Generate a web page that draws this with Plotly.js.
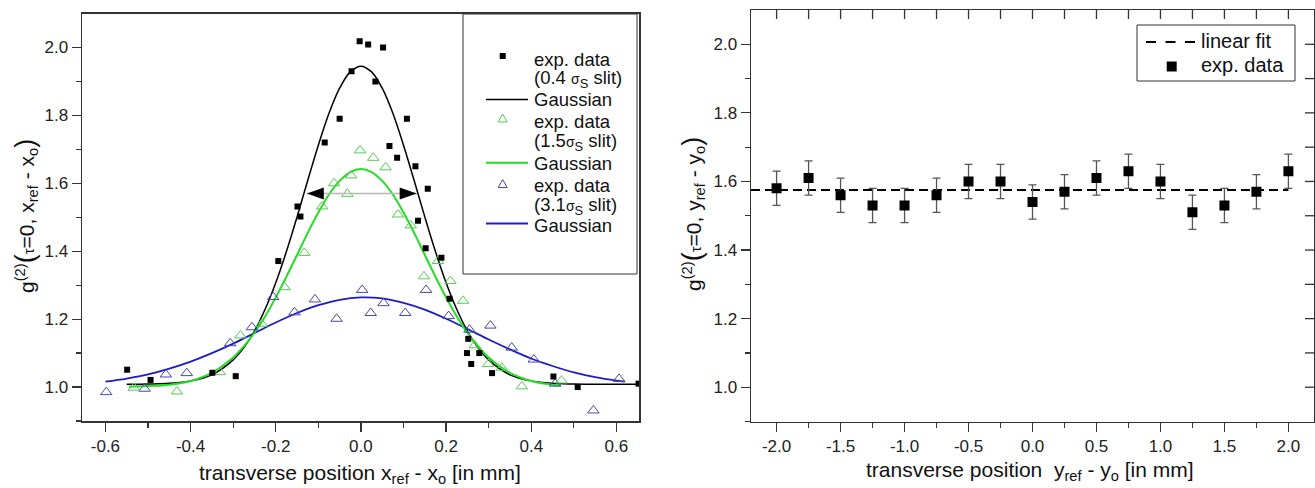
<!DOCTYPE html>
<html>
<head>
<meta charset="utf-8">
<script src="https://cdn.plot.ly/plotly-3.0.1.min.js"></script>
<style>
  html, body { margin: 0; padding: 0; background: #fff; }
  #chart { width: 1315px; height: 488px; }
</style>
</head>
<body>
<div id="chart"></div>
<script>
// ---- Left panel: g2(tau=0) across x for three slit widths ----
const narrowX = [-0.549,-0.494,-0.349,-0.294,-0.194,-0.149,-0.142,-0.085,-0.050,-0.022,-0.003,0.017,0.034,0.052,0.067,0.085,0.108,0.128,0.134,0.152,0.157,0.189,0.208,0.249,0.252,0.259,0.278,0.308,0.452,0.509,0.652];
const narrowG2 = [1.051,1.021,1.042,1.032,1.371,1.532,1.502,1.720,1.790,1.930,2.018,2.009,1.900,2.000,1.710,1.675,1.790,1.650,1.490,1.409,1.584,1.381,1.260,1.100,1.142,1.068,1.100,1.041,1.031,1.000,1.010];

const mediumX = [-0.533,-0.432,-0.331,-0.283,-0.233,-0.179,-0.133,-0.091,-0.063,-0.032,-0.023,-0.002,0.029,0.058,0.087,0.117,0.148,0.181,0.210,0.240,0.267,0.299,0.331,0.378,0.471];
const mediumG2 = [0.998,0.987,1.044,1.152,1.186,1.294,1.395,1.532,1.600,1.569,1.623,1.697,1.675,1.647,1.508,1.476,1.326,1.371,1.312,1.254,1.123,1.068,1.057,1.002,1.019];

const wideX = [-0.598,-0.508,-0.458,-0.409,-0.307,-0.256,-0.206,-0.156,-0.108,-0.057,0.003,0.023,0.053,0.104,0.153,0.206,0.255,0.304,0.354,0.406,0.456,0.546,0.606];
const wideG2 = [0.985,0.995,1.037,1.041,1.129,1.176,1.265,1.220,1.258,1.201,1.286,1.218,1.247,1.218,1.286,1.209,1.169,1.181,1.116,1.081,1.010,0.931,1.024];

// Gaussian fit curves, sampled
const narrowFitX = [-0.55,-0.5,-0.45,-0.4,-0.35,-0.3,-0.275,-0.25,-0.225,-0.2,-0.175,-0.15,-0.125,-0.1,-0.075,-0.05,-0.025,0,0.025,0.05,0.075,0.1,0.125,0.15,0.175,0.2,0.225,0.25,0.275,0.3,0.35,0.4,0.45,0.5,0.55,0.6,0.653];
const narrowFitG2 = [1.008,1.009,1.011,1.018,1.036,1.080,1.116,1.165,1.229,1.307,1.399,1.501,1.608,1.712,1.806,1.880,1.928,1.945,1.928,1.880,1.806,1.712,1.608,1.501,1.399,1.307,1.229,1.165,1.116,1.080,1.036,1.018,1.011,1.009,1.008,1.008,1.008];

const mediumFitX = [-0.545,-0.5,-0.45,-0.4,-0.35,-0.3,-0.275,-0.25,-0.225,-0.2,-0.175,-0.15,-0.125,-0.1,-0.075,-0.05,-0.025,0,0.025,0.05,0.075,0.1,0.125,0.15,0.175,0.2,0.225,0.25,0.275,0.3,0.35,0.4,0.45,0.47];
const mediumFitG2 = [1.001,1.003,1.007,1.018,1.042,1.087,1.120,1.160,1.208,1.264,1.325,1.389,1.454,1.514,1.567,1.607,1.633,1.642,1.633,1.607,1.567,1.514,1.454,1.389,1.325,1.264,1.208,1.160,1.120,1.087,1.042,1.018,1.007,1.005];

const wideFitX = [-0.6,-0.55,-0.5,-0.45,-0.4,-0.35,-0.3,-0.25,-0.2,-0.15,-0.1,-0.05,0,0.05,0.1,0.15,0.2,0.25,0.3,0.35,0.4,0.45,0.5,0.55,0.6,0.62];
const wideFitG2 = [1.016,1.025,1.037,1.054,1.075,1.100,1.128,1.159,1.190,1.218,1.241,1.257,1.264,1.261,1.248,1.228,1.201,1.171,1.140,1.111,1.084,1.062,1.043,1.029,1.019,1.016];

// Width marker (double arrow) on the narrow-slit peak
const fwhmLevel = 1.57;
const fwhmLeft = -0.127;
const fwhmRight = 0.131;

// ---- Right panel: g2(tau=0) across y ----
const yPosition = [-2.0,-1.75,-1.5,-1.25,-1.0,-0.75,-0.5,-0.25,0.0,0.25,0.5,0.75,1.0,1.25,1.5,1.75,2.0];
const g2Y = [1.58,1.61,1.56,1.53,1.53,1.56,1.60,1.60,1.54,1.57,1.61,1.63,1.60,1.51,1.53,1.57,1.63];
const g2YErr = [0.05,0.05,0.05,0.05,0.05,0.05,0.05,0.05,0.05,0.05,0.05,0.05,0.05,0.05,0.05,0.05,0.05];
const linFitX = [-2.2, 2.0];
const linFitG2 = [1.575, 1.575];

// ---- Tick labels ----
const leftXTicks = [-0.6,-0.4,-0.2,0,0.2,0.4,0.6];
const leftXTickText = ['-0.6','-0.4','-0.2','0.0','0.2','0.4','0.6'];
const leftXMinor = [-0.5,-0.3,-0.1,0.1,0.3,0.5];
const yTicks = [1.0,1.2,1.4,1.6,1.8,2.0];
const yTickText = ['1.0','1.2','1.4','1.6','1.8','2.0'];
const yMinor = [0.9,1.1,1.3,1.5,1.7,1.9];
const rightXTicks = [-2,-1.5,-1,-0.5,0,0.5,1,1.5,2];
const rightXTickText = ['-2.0','-1.5','-1.0','-0.5','0.0','0.5','1.0','1.5','2.0'];
const rightXMinor = [-1.75,-1.25,-0.75,-0.25,0.25,0.75,1.25,1.75];
const rightTopTicks = [-2,-1.75,-1.5,-1.25,-1,-0.75,-0.5,-0.25,0,0.25,0.5,0.75,1,1.25,1.5,1.75,2];
const rightSideTicks = [1.0,1.1,1.2,1.3,1.4,1.5,1.6,1.7,1.8,1.9,2.0];

// ---- Colours ----
const cBlack = '#000000';
const cGreenLine = '#22dd22';
const cGreenMark = '#55cc55';
const cBlueLine = '#1c1cc8';
const cBlueMark = '#4848a8';
const cAxis = '#333333';
const FONT = 'Liberation Sans, Arial, Helvetica, sans-serif';

// pixel -> paper helpers
const W = 1315, H = 488;
const px = v => v / W;
const py = v => 1 - v / H;

const rightXRange = [-2.2, 2.2];
const rightYRange = [0.9, 2.1];
const rightXDomain = [px(751), px(1314)];
const rightYDomain = [py(421.5), py(10)];

const traces = [
  { x: wideFitX, y: wideFitG2, mode: 'lines', line: { color: cBlueLine, width: 1.8, shape: 'spline' }, xaxis: 'x', yaxis: 'y' },
  { x: narrowFitX, y: narrowFitG2, mode: 'lines', line: { color: cBlack, width: 1.5, shape: 'spline' }, xaxis: 'x', yaxis: 'y' },
  { x: mediumFitX, y: mediumFitG2, mode: 'lines', line: { color: cGreenLine, width: 2, shape: 'spline' }, xaxis: 'x', yaxis: 'y' },
  { x: wideX, y: wideG2, mode: 'markers', marker: { symbol: 'triangle-up-open', size: 10, color: cBlueMark, line: { width: 1 } }, xaxis: 'x', yaxis: 'y' },
  { x: mediumX, y: mediumG2, mode: 'markers', marker: { symbol: 'triangle-up-open', size: 10, color: cGreenMark, line: { width: 1 } }, xaxis: 'x', yaxis: 'y' },
  { x: narrowX, y: narrowG2, mode: 'markers', marker: { symbol: 'square', size: 6, color: cBlack }, xaxis: 'x', yaxis: 'y' },

  { x: linFitX, y: linFitG2, mode: 'lines', line: { color: cBlack, width: 2, dash: '9px,5px' }, xaxis: 'x2', yaxis: 'y2' },
  { x: yPosition, y: g2Y, mode: 'markers', marker: { symbol: 'square', size: 10, color: cBlack },
    error_y: { type: 'data', array: g2YErr, visible: true, color: '#555555', thickness: 1.3, width: 4 },
    xaxis: 'x2', yaxis: 'y2' }
];

const axisBase = {
  showgrid: false, zeroline: false, showline: true, linecolor: cAxis, linewidth: 1.5,
  ticks: 'outside', ticklen: 9, tickwidth: 1.2, tickcolor: cAxis,
  tickfont: { family: FONT, size: 17, color: '#222' }, automargin: false, fixedrange: true
};

const layout = {
  width: W, height: H,
  margin: { l: 0, r: 0, t: 0, b: 0, pad: 0 },
  paper_bgcolor: '#fff', plot_bgcolor: '#fff',
  showlegend: false,
  font: { family: FONT, color: '#222' },
  xaxis: Object.assign({}, axisBase, {
    domain: [px(82), px(639)], anchor: 'y', range: [-0.655, 0.653], mirror: true,
    tickmode: 'array', tickvals: leftXTicks, ticktext: leftXTickText,
    minor: { tickmode: 'array', tickvals: leftXMinor, ticks: 'outside', ticklen: 5, tickwidth: 1.2, tickcolor: cAxis }
  }),
  yaxis: Object.assign({}, axisBase, {
    domain: [py(421), py(13.5)], anchor: 'x', range: [0.9, 2.1], mirror: true,
    tickmode: 'array', tickvals: yTicks, ticktext: yTickText,
    minor: { tickmode: 'array', tickvals: yMinor, ticks: 'outside', ticklen: 5, tickwidth: 1.2, tickcolor: cAxis }
  }),
  xaxis2: Object.assign({}, axisBase, {
    domain: rightXDomain, anchor: 'y2', range: rightXRange, mirror: true,
    tickmode: 'array', tickvals: rightXTicks, ticktext: rightXTickText,
    minor: { tickmode: 'array', tickvals: rightXMinor, ticks: 'outside', ticklen: 5, tickwidth: 1.2, tickcolor: cAxis }
  }),
  yaxis2: Object.assign({}, axisBase, {
    domain: rightYDomain, anchor: 'x2', range: rightYRange, mirror: true,
    tickmode: 'array', tickvals: yTicks, ticktext: yTickText,
    minor: { tickmode: 'array', tickvals: yMinor, ticks: 'outside', ticklen: 5, tickwidth: 1.2, tickcolor: cAxis }
  }),
  shapes: [],
  annotations: []
};

// inward ticks along the top and right edges of the right panel
const x2Paper = v => rightXDomain[0] + (v - rightXRange[0]) / (rightXRange[1] - rightXRange[0]) * (rightXDomain[1] - rightXDomain[0]);
const y2Paper = v => rightYDomain[0] + (v - rightYRange[0]) / (rightYRange[1] - rightYRange[0]) * (rightYDomain[1] - rightYDomain[0]);
rightTopTicks.forEach(v => layout.shapes.push({
  type: 'line', xref: 'paper', yref: 'paper', layer: 'above',
  x0: x2Paper(v), x1: x2Paper(v), y0: rightYDomain[1], y1: rightYDomain[1] - 9 / H,
  line: { color: cAxis, width: 1.3 }
}));
rightSideTicks.forEach(v => layout.shapes.push({
  type: 'line', xref: 'paper', yref: 'paper', layer: 'above',
  x0: rightXDomain[1], x1: rightXDomain[1] - 9 / W, y0: y2Paper(v), y1: y2Paper(v),
  line: { color: cAxis, width: 1.3 }
}));

// width arrow on the left panel
layout.shapes.push(
  { type: 'line', xref: 'x', yref: 'y', x0: fwhmLeft, x1: fwhmRight, y0: fwhmLevel, y1: fwhmLevel, line: { color: '#b8b8b8', width: 1.5 } },
  { type: 'path', xref: 'x', yref: 'y', xsizemode: 'pixel', ysizemode: 'pixel', xanchor: fwhmLeft, yanchor: fwhmLevel,
    path: 'M0,0 L17,6 L17,-6 Z', fillcolor: cBlack, line: { width: 0 } },
  { type: 'path', xref: 'x', yref: 'y', xsizemode: 'pixel', ysizemode: 'pixel', xanchor: fwhmRight, yanchor: fwhmLevel,
    path: 'M0,0 L-17,6 L-17,-6 Z', fillcolor: cBlack, line: { width: 0 } }
);

// legend of the left panel
const LEG_FS = 18.5;
function legText(text, x, y, size) {
  return { text: text, xref: 'paper', yref: 'paper', x: px(x), y: py(y), xanchor: 'left', yanchor: 'middle',
           showarrow: false, font: { family: FONT, size: size, color: '#111' } };
}
function legLine(x0, x1, y, color, width, dash) {
  return { type: 'line', xref: 'paper', yref: 'paper', x0: px(x0), x1: px(x1), y0: py(y), y1: py(y),
           line: { color: color, width: width, dash: dash || 'solid' } };
}
function legGlyph(x, y, path, fill, stroke) {
  return { type: 'path', xref: 'paper', yref: 'paper', xsizemode: 'pixel', ysizemode: 'pixel',
           xanchor: px(x), yanchor: py(y), path: path, fillcolor: fill,
           line: { color: stroke || fill, width: stroke ? 1 : 0 } };
}
const sq3 = 'M-3,-3 L3,-3 L3,3 L-3,3 Z';
const sq5 = 'M-5,-5 L5,-5 L5,5 L-5,5 Z';
const tri = 'M-4.5,-3.5 L4.5,-3.5 L0,4.5 Z';
const sig = s => '(' + s + '<span style="font-size:14px">σ</span><sub>S</sub> slit)';

layout.shapes.push(
  { type: 'rect', xref: 'paper', yref: 'paper', x0: px(463), x1: px(637), y0: py(274), y1: py(14),
    line: { color: cAxis, width: 1 }, fillcolor: 'rgba(255,255,255,0)' },
  legGlyph(502.7, 56, sq3, cBlack),
  legLine(486, 528, 99.5, cBlack, 1.5),
  legGlyph(502.7, 118.5, tri, 'rgba(0,0,0,0)', cGreenMark),
  legLine(486, 528, 162.7, cGreenLine, 2),
  legGlyph(502.7, 184, tri, 'rgba(0,0,0,0)', cBlueMark),
  legLine(486, 528, 223.5, cBlueLine, 1.8)
);
layout.annotations.push(
  legText('exp. data', 532, 59.5, LEG_FS),
  legText(sig('0.4 '), 532, 79, LEG_FS),
  legText('Gaussian', 532, 99.5, LEG_FS),
  legText('exp. data', 532, 121.5, LEG_FS),
  legText(sig('1.5'), 532, 142, LEG_FS),
  legText('Gaussian', 532, 163, LEG_FS),
  legText('exp. data', 532, 186, LEG_FS),
  legText(sig('3.1'), 532, 206.5, LEG_FS),
  legText('Gaussian', 532, 225, LEG_FS)
);

// legend of the right panel
layout.shapes.push(
  { type: 'rect', xref: 'paper', yref: 'paper', x0: px(1137), x1: px(1295), y0: py(81), y1: py(25),
    line: { color: cAxis, width: 1 }, fillcolor: 'rgba(255,255,255,0)' },
  legLine(1146, 1195, 42, cBlack, 2, '10px,9.5px'),
  legGlyph(1171.7, 66.5, sq5, cBlack)
);
layout.annotations.push(
  legText('linear fit', 1199, 41.5, 20),
  legText('exp. data', 1199, 65, 20)
);

// axis titles
const TITLE_FS = 21;
const big = c => '<span style="font-size:27px">' + c + '</span>';
const tau = '<span style="font-size:15px">τ</span>';
layout.annotations.push(
  { text: 'g<sup>(2)</sup>' + big('(') + tau + '=0, x<sub>ref</sub> - x<sub>o</sub>' + big(')'),
    xref: 'paper', yref: 'paper', x: px(25), y: py(216), textangle: -90, xanchor: 'center', yanchor: 'middle',
    showarrow: false, font: { family: FONT, size: TITLE_FS, color: '#111' } },
  { text: 'g<sup>(2)</sup>' + big('(') + tau + '=0, y<sub>ref</sub> - y<sub>o</sub>' + big(')'),
    xref: 'paper', yref: 'paper', x: px(692), y: py(214), textangle: -90, xanchor: 'center', yanchor: 'middle',
    showarrow: false, font: { family: FONT, size: TITLE_FS, color: '#111' } },
  { text: 'transverse position x<sub>ref</sub> - x<sub>o</sub> [in mm]',
    xref: 'paper', yref: 'paper', x: px(360), y: py(474), xanchor: 'center', yanchor: 'middle',
    showarrow: false, font: { family: FONT, size: TITLE_FS, color: '#111' } },
  { text: 'transverse position  y<sub>ref</sub> - y<sub>o</sub> [in mm]',
    xref: 'paper', yref: 'paper', x: px(1030), y: py(471), xanchor: 'center', yanchor: 'middle',
    showarrow: false, font: { family: FONT, size: TITLE_FS, color: '#111' } }
);

Plotly.newPlot('chart', traces, layout, { staticPlot: true, displayModeBar: false });
</script>
</body>
</html>
